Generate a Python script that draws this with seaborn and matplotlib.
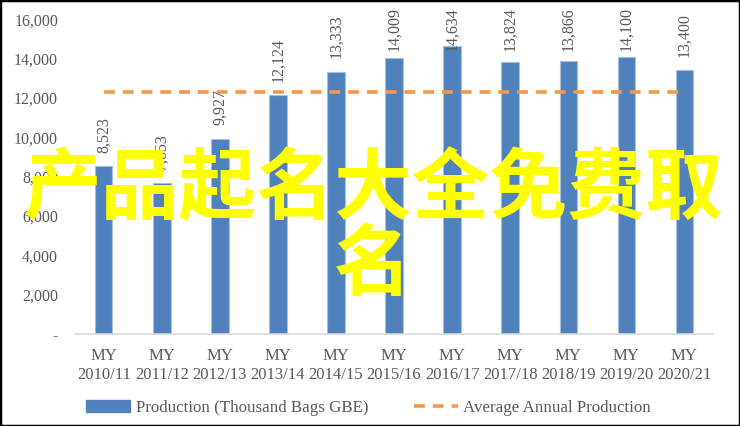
import matplotlib
matplotlib.use("Agg")
import matplotlib.pyplot as plt
import seaborn as sns
import pandas as pd
from matplotlib.patches import Patch, Rectangle
from matplotlib.lines import Line2D
from matplotlib.ticker import FuncFormatter

# data
years = ["MY\n2010/11", "MY\n2011/12", "MY\n2012/13", "MY\n2013/14",
         "MY\n2014/15", "MY\n2015/16", "MY\n2016/17", "MY\n2017/18",
         "MY\n2018/19", "MY\n2019/20", "MY\n2020/21"]
production = [8523, 7653, 9927, 12124, 13333, 14009, 14634, 13824,
              13866, 14100, 13400]
average = 12309
watermark = ["产品起名大全免费取", "名"]

sns.set_theme(style="white")
plt.rcParams['font.family'] = ['Liberation Serif', 'DejaVu Serif']

bar_blue = "#4F81BD"
avg_orange = "#F79646"
grey = "#595959"

df = pd.DataFrame({"year": years, "production": production})

fig = plt.figure(figsize=(7.4, 4.26), dpi=100)
ax = fig.add_axes([0.101, 0.216, 0.863, 0.739])

sns.barplot(data=df, x="year", y="production", color=bar_blue,
            saturation=1, width=0.3, edgecolor="#A7BFDE", linewidth=0.8,
            ax=ax)

# average line from first to last category
ax.plot(range(len(years)), [average] * len(years), color=avg_orange,
        lw=2.6, ls=(0, (3, 2.2)), zorder=3)

# value labels above each bar, pushed down so they stay inside the frame
for i, v in enumerate(production):
    ax.text(i, min(v + 700, 14400), f"{v:,}", rotation=90, ha="center",
            va="bottom", fontsize=11.5, color=grey)

ax.set_xlim(-0.5, len(years) - 0.5)
ax.set_ylim(0, 16000)
ax.set_yticks(range(0, 16001, 2000))
ax.yaxis.set_major_formatter(
    FuncFormatter(lambda v, p: "-" if v == 0 else f"{int(v):,}"))
ax.set_xlabel("")
ax.set_ylabel("")
ax.tick_params(axis="x", length=0, labelsize=12, colors=grey, pad=10)
ax.tick_params(axis="y", length=0, labelsize=11.5, colors=grey, pad=12)
for lab in ax.get_xticklabels():
    lab.set_linespacing(1.3)
for s in ["left", "top", "right"]:
    ax.spines[s].set_visible(False)
ax.spines["bottom"].set_color("#D9D9D9")
ax.spines["bottom"].set_linewidth(1.2)

handles = [Patch(facecolor=bar_blue, edgecolor=bar_blue),
           Line2D([0], [0], color=avg_orange, lw=2.6, ls=(0, (3, 2.2)))]
labels = ["Production (Thousand Bags GBE)", "Average Annual Production"]
fig.legend(handles, labels, loc="center", bbox_to_anchor=(0.498, 0.042),
           ncol=2, frameon=False, fontsize=12.2, handlelength=2.6,
           handleheight=0.75, handletextpad=0.3, columnspacing=2.7,
           labelcolor=grey)

# yellow overlay text
fig.text(0.504, 0.553, watermark[0], ha="center", va="center",
         fontsize=56, fontweight="bold", color="#FFFF00",
         family=["Noto Sans CJK SC", "DejaVu Sans"], zorder=10)
fig.text(0.503, 0.374, watermark[1], ha="center", va="center",
         fontsize=56, fontweight="bold", color="#FFFF00",
         family=["Noto Sans CJK SC", "DejaVu Sans"], zorder=10)

fig.patches.append(Rectangle((0, 0), 1, 1, transform=fig.transFigure,
                             fill=False, edgecolor="black", lw=2.5))

fig.savefig("out.png", dpi=100)
